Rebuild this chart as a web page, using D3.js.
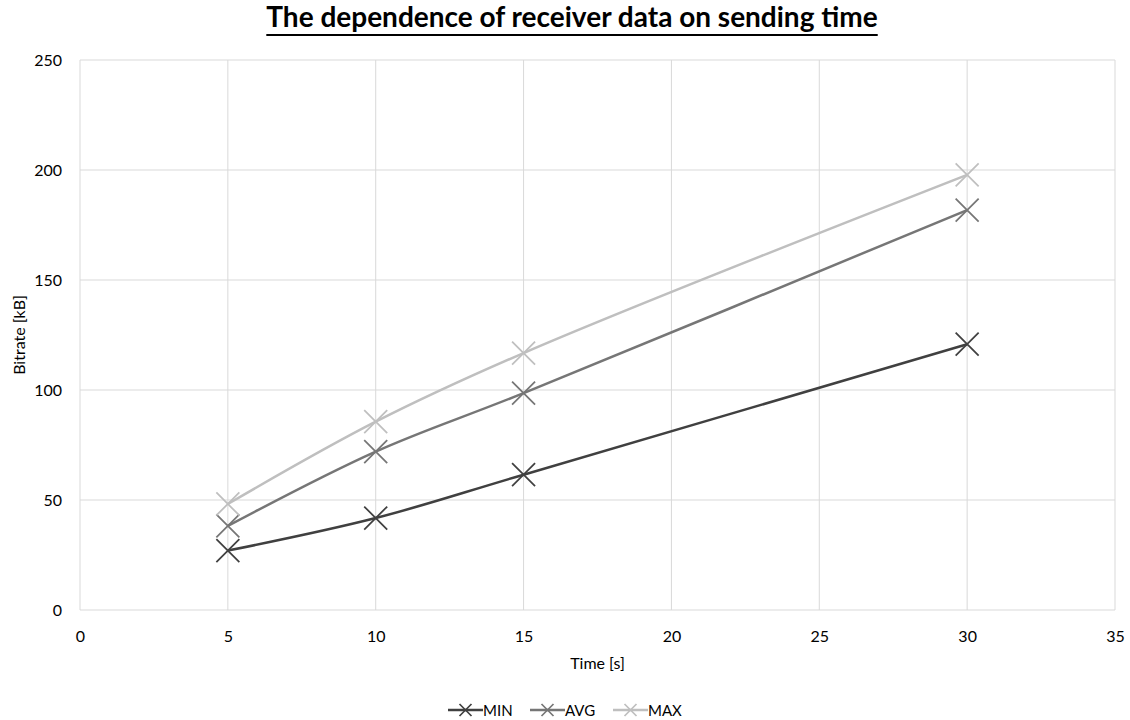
<!DOCTYPE html>
<html>
<head>
<script src="https://d3js.org/d3.v7.min.js"></script>
<style>
  body { margin: 0; background: #fff; }
  svg text { font-family: Lato, "Open Sans", sans-serif; fill: #000; }
</style>
</head>
<body>
<div id="chart"></div>
<script>
const times = [5, 10, 15, 30]
const minValues = [27, 41.8, 61.5, 120.8]
const avgValues = [38.2, 72, 98.6, 181.8]
const maxValues = [48.2, 85.6, 116.8, 197.8]
const seriesNames = ['MIN', 'AVG', 'MAX']
const xTicks = [0, 5, 10, 15, 20, 25, 30, 35]
const yTicks = [0, 50, 100, 150, 200, 250]

const w = 1130, h = 720
const padLeft = 80, padRight = 1115, padTop = 60, padBottom = 610
const colours = ['#404040', '#767676', '#bfbfbf']

const svg = d3.select('#chart').append('svg')
  .attr('width', w).attr('height', h)

const x = d3.scaleLinear().domain([0, 35]).range([padLeft, padRight])
const y = d3.scaleLinear().domain([0, 250]).range([padBottom, padTop])

// gridlines
svg.append('g').selectAll('line').data(xTicks).enter().append('line')
  .attr('x1', d => x(d)).attr('x2', d => x(d))
  .attr('y1', padTop).attr('y2', padBottom)
  .attr('stroke', '#d9d9d9').attr('stroke-width', 1)
svg.append('g').selectAll('line').data(yTicks).enter().append('line')
  .attr('x1', padLeft).attr('x2', padRight)
  .attr('y1', d => y(d)).attr('y2', d => y(d))
  .attr('stroke', '#d9d9d9').attr('stroke-width', 1)

// axes (labels only)
const xAxis = svg.append('g').attr('transform', 'translate(0,' + padBottom + ')')
  .call(d3.axisBottom(x).tickValues(xTicks).tickSize(0))
const yAxis = svg.append('g').attr('transform', 'translate(' + padLeft + ',0)')
  .call(d3.axisLeft(y).tickValues(yTicks).tickSize(0).tickPadding(18))
xAxis.select('.domain').remove()
yAxis.select('.domain').remove()
xAxis.selectAll('.tick text').attr('y', 32).attr('dy', 0)
svg.selectAll('.tick text').style('font-size', '16px').style('fill', '#000')
  .style('font-family', 'Lato, sans-serif')

svg.append('text').attr('x', (padLeft + padRight) / 2).attr('y', 669)
  .attr('text-anchor', 'middle').style('font-size', '16px').text('Time [s]')
svg.append('text').attr('transform', 'translate(25,' + (padTop + padBottom) / 2 + ') rotate(-90)')
  .attr('text-anchor', 'middle').style('font-size', '16px').text('Bitrate [kB]')

// title
const title = svg.append('text').attr('x', w / 2 + 7).attr('y', 27)
  .attr('text-anchor', 'middle').style('font-size', '28px').style('font-weight', 'bold')
  .text('The dependence of receiver data on sending time')
const tb = title.node().getBBox()
svg.append('line').attr('x1', tb.x).attr('x2', tb.x + tb.width)
  .attr('y1', 35).attr('y2', 35).attr('stroke', '#000').attr('stroke-width', 2)

// series
const series = [minValues, avgValues, maxValues].map((vals, i) => ({
  name: seriesNames[i], colour: colours[i],
  points: vals.map((v, j) => [times[j], v])
}))

const line = d3.line().x(d => x(d[0])).y(d => y(d[1])).curve(d3.curveCatmullRom)
const s = 11.5

function cross(g, cx, cy, r, colour) {
  g.append('path')
    .attr('d', `M${cx - r},${cy - r}L${cx + r},${cy + r}M${cx - r},${cy + r}L${cx + r},${cy - r}`)
    .attr('stroke', colour).attr('stroke-width', 1.75).attr('fill', 'none')
}

series.forEach(sr => {
  svg.append('path').datum(sr.points).attr('d', line)
    .attr('fill', 'none').attr('stroke', sr.colour).attr('stroke-width', 2.5)
  const g = svg.append('g')
  sr.points.forEach(p => cross(g, x(p[0]), y(p[1]), s, sr.colour))
})

// legend
const legendX = [448, 530, 613]
const ly = 710
series.forEach((sr, i) => {
  const g = svg.append('g').attr('transform', 'translate(' + legendX[i] + ',' + ly + ')')
  g.append('line').attr('x1', 0).attr('x2', 35).attr('y1', 0).attr('y2', 0)
    .attr('stroke', sr.colour).attr('stroke-width', 2.5)
  cross(g, 17.5, 0, 6, sr.colour)
  g.append('text').attr('x', 35).attr('y', 5.5).style('font-size', '15px').text(sr.name)
})
</script>
</body>
</html>
